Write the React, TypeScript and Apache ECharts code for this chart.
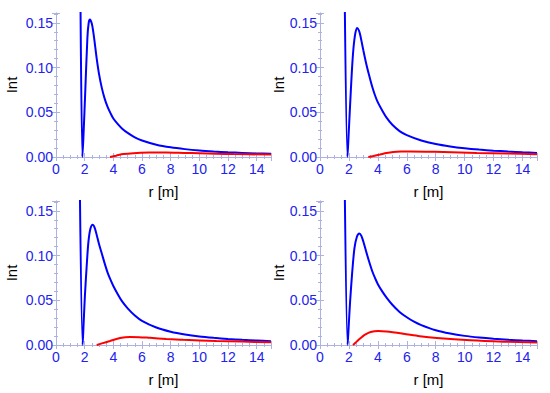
import React, { useEffect, useRef } from "react";
import * as echarts from "echarts";

// Panel data: [r, Int] pairs
const blueA: number[][] = [
  [1.70, 0.19], [1.84, 0], [1.91, 0.021], [2.05, 0.077], [2.19, 0.133], [2.28, 0.150], [2.37, 0.1536],
  [2.5, 0.149], [2.6, 0.140], [2.7, 0.128], [2.84, 0.110], [3.0, 0.093], [3.2, 0.077], [3.4, 0.065],
  [3.6, 0.056], [3.8, 0.049], [4.0, 0.043], [4.3, 0.037], [4.6, 0.032], [5.0, 0.027], [5.5, 0.022],
  [6.0, 0.0185], [7.0, 0.0138], [8.0, 0.0108], [9.0, 0.0088], [10, 0.0073], [11, 0.0062], [12, 0.0053],
  [13, 0.0046], [14, 0.0040], [15, 0.0035],
];
const redA: number[][] = [
  [3.77, 0], [4.2, 0.0015], [4.7, 0.0033], [5.4, 0.0043], [6.5, 0.0049], [7.7, 0.0050], [8.9, 0.0046],
  [10.0, 0.0042], [11.2, 0.0037], [12.4, 0.0033], [15.0, 0.0027],
];
const blueB: number[][] = [
  [1.70, 0.19], [1.90, 0], [1.97, 0.022], [2.08, 0.058], [2.20, 0.095], [2.31, 0.121], [2.45, 0.139],
  [2.58, 0.1443], [2.7, 0.141], [2.8, 0.135], [2.9, 0.127], [3.0, 0.119], [3.2, 0.104], [3.4, 0.091],
  [3.6, 0.079], [3.8, 0.069], [4.0, 0.061], [4.3, 0.052], [4.6, 0.044], [5.0, 0.036], [5.5, 0.029],
  [6.0, 0.0245], [7.0, 0.0185], [8.0, 0.0145], [9.0, 0.0118], [10, 0.0098], [11, 0.0083], [12, 0.0071],
  [13, 0.0061], [14, 0.0053], [15, 0.0046],
];
const redB: number[][] = [
  [3.34, 0], [3.7, 0.0012], [4.15, 0.0028], [4.6, 0.0045], [5.07, 0.0056], [5.6, 0.0061], [6.23, 0.0062],
  [7.3, 0.0060], [8.53, 0.0055], [10.84, 0.0045], [13.0, 0.0038], [15.0, 0.0032],
];
const blueC: number[][] = [
  [1.66, 0.18], [1.86, 0], [1.93, 0.025], [2.02, 0.056], [2.14, 0.088], [2.26, 0.115], [2.40, 0.130],
  [2.56, 0.1345], [2.7, 0.131], [2.84, 0.123], [3.0, 0.113], [3.2, 0.102], [3.4, 0.091], [3.6, 0.081],
  [3.8, 0.073], [4.0, 0.066], [4.3, 0.057], [4.6, 0.049], [5.0, 0.041], [5.5, 0.033], [6.0, 0.027],
  [7.0, 0.0195], [8.0, 0.0148], [9.0, 0.0117], [10, 0.0095], [11, 0.0080], [12, 0.0068], [13, 0.0058],
  [14, 0.0050], [15, 0.0043],
];
const redC: number[][] = [
  [2.84, 0], [3.2, 0.0018], [3.77, 0.0045], [4.47, 0.0078], [5.16, 0.0090], [5.8, 0.0088], [6.56, 0.0080],
  [7.7, 0.0068], [8.88, 0.0058], [11.2, 0.0046], [13.0, 0.0038], [15.0, 0.0031],
];
const blueD: number[][] = [
  [1.70, 0.19], [1.91, 0], [1.98, 0.020], [2.08, 0.0484], [2.22, 0.080], [2.38, 0.108], [2.55, 0.121],
  [2.72, 0.1248], [2.86, 0.122], [3.0, 0.1154], [3.2, 0.104], [3.4, 0.093], [3.6, 0.083], [3.8, 0.075],
  [4.0, 0.068], [4.3, 0.060], [4.6, 0.053], [5.0, 0.045], [5.5, 0.037], [6.0, 0.031], [6.5, 0.026],
  [7.0, 0.0222], [8.0, 0.0165], [9.0, 0.0128], [10, 0.0102], [11, 0.0084], [12, 0.0070], [13, 0.0059],
  [14, 0.0050], [15, 0.0042],
];
const redD: number[][] = [
  [2.28, 0], [2.45, 0.0025], [2.65, 0.0056], [2.9, 0.0090], [3.11, 0.0115], [3.5, 0.0145], [4.04, 0.0156],
  [4.6, 0.0150], [5.77, 0.0125], [6.9, 0.0098], [8.07, 0.0078], [10.4, 0.0052], [12.7, 0.0037], [15.0, 0.0028],
];

const xName = "r [m]";
const yName = "Int";

const FRAME = "#aeb2e0";
const LABEL = "#2222f0";
const FONT = "Liberation Sans, Arial, sans-serif";

export default function App() {
  const ref = useRef<HTMLDivElement>(null);
  useEffect(() => {
    if (!ref.current) return;
    const chart = echarts.init(ref.current, null, { renderer: "svg" });
    const panels = [
      { left: 56, top: 13, width: 215, height: 144, blue: blueA, red: redA, yGap: 37 },
      { left: 320, top: 13, width: 217, height: 144, blue: blueB, red: redB, yGap: 31 },
      { left: 56, top: 201, width: 215, height: 144, blue: blueC, red: redC, yGap: 37 },
      { left: 320, top: 201, width: 217, height: 144, blue: blueD, red: redD, yGap: 31 },
    ];
    const grid: any[] = [];
    const xAxis: any[] = [];
    const yAxis: any[] = [];
    const series: any[] = [];
    const line = { show: true, lineStyle: { color: FRAME, width: 1 } };
    panels.forEach((p, i) => {
      grid.push({ left: p.left, top: p.top, width: p.width, height: p.height, show: false });
      const xBase = {
        type: "value", gridIndex: i, min: 0, max: 15, interval: 2,
        axisLine: line,
        axisTick: { show: true, inside: true, length: 4, lineStyle: { color: FRAME } },
        minorTick: { show: true, splitNumber: 4, length: 2, lineStyle: { color: FRAME } },
        splitLine: { show: false },
      };
      xAxis.push({
        ...xBase, position: "bottom",
        axisLabel: { color: LABEL, fontSize: 14, fontFamily: FONT, margin: 5, showMaxLabel: false },
        name: xName, nameLocation: "middle", nameGap: 27,
        nameTextStyle: { color: "#000", fontSize: 15, fontFamily: FONT },
      });
      xAxis.push({ ...xBase, position: "top", axisLabel: { show: false } });
      const yBase = {
        type: "value", gridIndex: i, min: 0, max: 0.161, interval: 0.05,
        axisLine: line,
        axisTick: { show: true, inside: true, length: 4, lineStyle: { color: FRAME } },
        minorTick: { show: true, splitNumber: 5, length: 2, lineStyle: { color: FRAME } },
        splitLine: { show: false },
      };
      yAxis.push({
        ...yBase, position: "left",
        axisLabel: {
          color: LABEL, fontSize: 14, fontFamily: FONT, margin: 3, showMaxLabel: false,
          formatter: (v: number) => v.toFixed(2),
        },
        name: yName, nameLocation: "middle", nameGap: p.yGap,
        nameTextStyle: { color: "#000", fontSize: 15, fontFamily: FONT },
      });
      yAxis.push({ ...yBase, position: "right", axisLabel: { show: false } });
      series.push({
        type: "line", xAxisIndex: i * 2, yAxisIndex: i * 2, data: p.blue,
        showSymbol: false, smooth: 0.3, clip: true,
        lineStyle: { color: "#0000ff", width: 2 }, itemStyle: { color: "#0000ff" },
      });
      series.push({
        type: "line", xAxisIndex: i * 2, yAxisIndex: i * 2, data: p.red,
        showSymbol: false, smooth: 0.3, clip: true,
        lineStyle: { color: "#ff0000", width: 2 }, itemStyle: { color: "#ff0000" },
      });
    });
    chart.setOption({ animation: false, backgroundColor: "#fff", grid, xAxis, yAxis, series });
    return () => chart.dispose();
  }, []);
  return (
    <div
      ref={ref}
      style={{ position: "absolute", left: 0, top: 0, width: 550, height: 393 }}
    />
  );
}
